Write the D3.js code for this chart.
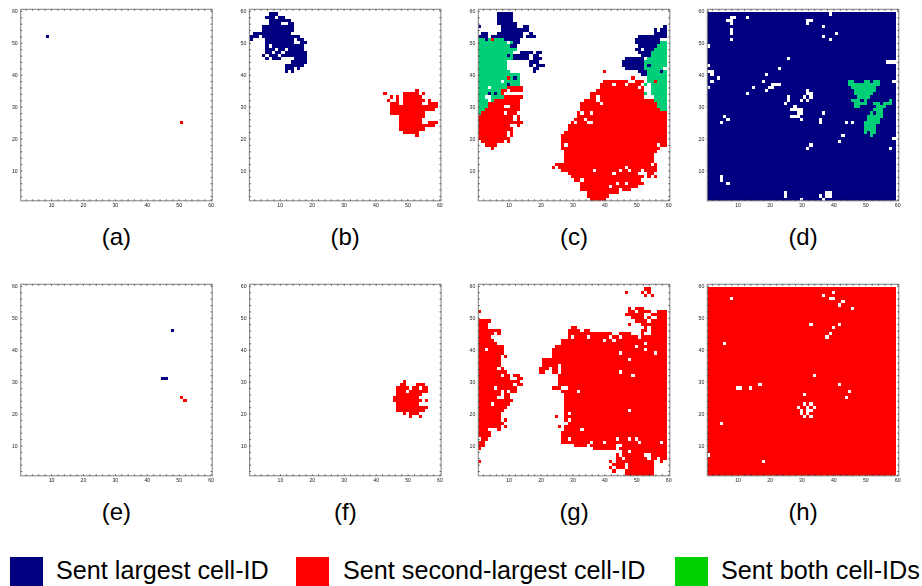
<!DOCTYPE html>
<html><head><meta charset="utf-8">
<script src="https://cdnjs.cloudflare.com/ajax/libs/d3/7.8.5/d3.min.js"></script>
<style>html,body{margin:0;padding:0;background:#fff}svg{display:block}text{font-family:"Liberation Sans",Arial,sans-serif;fill:#000}</style>
</head><body><div id="c"></div>
<script>
// Rows: [y, xStart, xEnd, xStart, xEnd, ...]; holes: [x, y]
const panelLabels = ["(a)","(b)","(c)","(d)","(e)","(f)","(g)","(h)"];
const tickLabels = [10,20,30,40,50,60];
const legendLabels = ["Sent largest cell-ID","Sent second-largest cell-ID","Sent both cell-IDs"];

const aBlue=[[52,9,9]], aRed=[[25,51,51]], aGreen=[], aHoles=[];

const bBlue=[[59,7,9],[58,6,11],[57,7,13],[56,7,14],[55,5,14],[54,5,14],[53,2,13],[52,1,3,5,16],[51,1,1,6,14,16,17],[50,6,14,17,18],[49,6,17],[48,6,17],[47,6,18],[46,5,5,7,9,11,18],[45,6,6,8,10,15,18],[44,14,18],[43,12,17],[42,12,14,16,16],[41,12,12,14,14]];
const bRed=[[35,53,53],[34,43,43,49,51,52,53,55,55],[33,45,45,47,47,49,54],[32,44,44,47,47,49,55,57,57],[31,45,47,49,54,57,57,58,59],[30,45,56,57,59],[29,45,56,57,58],[28,45,55],[27,48,55],[26,48,54],[25,48,54,57,59],[24,48,55,56,58],[23,48,55],[22,49,53],[21,53,53]];
const bGreen=[];
const bHoles=[[9,58],[11,56],[12,56],[7,49],[9,48],[12,48],[8,47],[11,47],[10,46],[15,50],[16,50],[15,51],[4,52]];

const cBlue=[[59,7,11],[58,7,11],[57,7,11],[56,7,12],[55,1,1,8,12,15,16],[54,8,16],[53,2,3,7,14,17,17],[52,1,3,5,14,16,18],[51,3,3,9,13],[50,10,10,12,13],[49,11,12],[47,14,17,19,20],[46,10,10,12,16,18,19],[45,12,16,18,20],[44,17,19],[43,17,17,19,21],[42,18,19],[41,18,18],[39,12,12],[37,10,10],[34,4,4,6,6],
[55,59,59],[54,56,56,58,59],[53,56,59],[52,51,59],[51,50,58],[50,50,57],[49,51,56],[48,50,51,53,55],[47,51,54],[46,52,54],[45,47,52],[44,46,52],[43,46,52,54,54],[42,47,52],[41,51,53,58,58],[40,52,53]];
const cRed=[[51,5,5],[39,10,10],[36,10,14],[35,8,14],[34,8,8],[33,9,14],[32,6,13],[31,4,13],[30,4,9,11,13],[29,3,13],[28,2,9,10,12],[27,1,11,13,13],[26,1,11,13,13],[25,1,12,13,14],[24,1,10,12,13],[23,1,11],[22,1,11],[21,1,9,11,11],[20,1,10],[19,2,8,10,10],[18,3,6],[17,5,5],
[41,40,40],[39,49,49],[38,40,47,50,53,56,56],[37,39,51],[36,39,52],[35,38,52],[34,36,52],[33,35,52],[32,34,55],[31,33,56],[30,33,56],[29,33,57],[28,32,32,34,59],[27,32,59],[26,31,33,35,59],[25,30,59],[24,29,59],[23,29,59],[22,28,59],[21,27,59],[20,27,59],[19,27,59],[18,27,59],[17,27,57],[16,28,56],[15,28,55],[14,28,55],[13,28,55],[12,25,54,56,56],[11,24,24,26,54,55,56],[10,27,51,53,56],[9,29,50,54,55],[8,30,52,54,54,56,56],[7,31,32,34,51],[6,33,52],[5,33,41,43,50],[4,33,44,46,48],[3,35,44],[2,35,41],[1,36,40]];
const cGreen=[[51,1,8],[50,1,9,11,11],[49,1,10],[48,1,13],[47,1,11],[46,1,9,11,11],[45,1,11],[44,1,9],[43,1,9],[42,1,9],[41,1,10],[40,1,13],[39,1,13],[38,1,13],[37,1,13],[36,1,9],[35,1,7],[34,1,7],[33,1,8],[32,1,5],[31,1,3],[30,1,3],[29,1,2],[28,1,1],
[50,58,59],[49,57,59],[48,56,59],[47,55,59],[46,55,59],[45,53,59],[44,53,59],[43,53,59],[42,53,59],[41,54,59],[40,54,59],[39,54,59],[38,53,59],[37,53,59],[36,55,59],[35,55,59],[34,51,53,55,59],[33,51,52,56,59],[32,56,59],[31,57,59],[30,57,59],[29,58,59]];
const cHoles=[[4,36],[3,33],[4,33],[4,32],[8,38],[13,48],[9,34],[10,34],[11,34],[12,34],[13,34],[14,34],[9,30],[10,30],[9,28],[12,24],[10,22],[10,35],[10,50],[59,42],[53,45],[52,48],[58,51],[53,38],[54,37],[43,37],[47,37],[51,36],[35,33],[38,33],[38,32],[39,31],[36,28],[31,25],[35,25],[36,25],[28,18],[57,18],[37,10],[47,11],[48,10],[45,10],[43,9],[52,7],[53,6],[55,8],[44,6],[47,6]];

const dBlue=[];for(const r of [59,58,57,56,55,54,53,52,51,50,49,48,47,46,45,44,43,42,41,40,39,38,37,36,35,34,33,32,31,30,29,28,27,26,25,24,23,22,21,20,19,18,17,16,15,14,13,12,11,10,9,8,7,6,5,4,3,2,1])dBlue.push([r,1,59]);
const dRed=[];
const dGreen=[[38,45,46,50,51,53,54],[37,45,54],[36,46,53],[35,47,53],[34,47,52],[33,48,51],[32,46,50,58,58],[31,47,50,53,54,56,58],[30,47,48,54,56],[29,53,55],[28,52,55],[27,51,55],[26,51,54],[25,50,54],[24,50,53],[23,50,53],[22,50,50,52,53],[21,52,52]];
const dHoles=[[39,59],[8,58],[9,58],[13,58],[7,57],[8,57],[8,56],[8,54],[8,53],[8,51],[32,57],[33,57],[32,56],[37,55],[37,52],[41,53],[39,51],[1,49],[26,45],[1,43],[23,42],[1,41],[2,41],[2,40],[19,40],[4,39],[2,38],[18,38],[21,37],[22,37],[20,36],[21,36],[23,37],[1,36],[15,36],[19,35],[13,34],[32,35],[32,34],[33,34],[31,33],[33,33],[26,33],[26,32],[30,32],[32,32],[25,31],[28,30],[27,29],[28,29],[29,29],[30,29],[29,28],[30,28],[27,27],[28,27],[29,27],[30,26],[36,26],[36,25],[37,28],[44,25],[46,25],[6,27],[7,26],[5,25],[43,21],[42,19],[33,18],[32,17],[58,17],[59,20],[57,44],[58,44],[59,44],[59,38],[5,8],[5,7],[7,6],[25,3],[25,2],[36,2],[38,2],[39,2],[38,3],[39,3],[37,1],[30,1]];
const dDots=[[49,32],[53,28]];

const eBlue=[[46,48,48],[31,45,46]], eRed=[[25,51,51],[24,52,52]], eGreen=[], eHoles=[];

const fBlue=[];
const fRed=[[30,49,49],[29,48,49,53,55],[28,47,50,52,56],[27,47,49,51,56],[26,47,54],[25,46,53],[24,46,54,56,56],[23,47,53],[22,47,54,55,56],[21,47,54,55,55],[20,49,49,51,53],[19,51,51,54,54]];
const fGreen=[];
const fHoles=[[54,28]];

const gBlue=[];
const gRed=[[52,1,1],[49,1,4],[48,1,3],[47,1,3],[46,1,7],[45,1,5,7,7],[44,1,4],[43,1,5],[42,1,6],[41,1,8],[40,1,8],[39,1,8],[38,1,7,9,9],[37,1,7],[36,1,7],[35,1,7],[34,1,6,8,8],[33,1,9],[32,1,7,9,10,12,13],[31,1,10,13,14],[30,1,11,12,13],[29,1,11,13,14],[28,1,5,7,12],[27,1,7,9,9,11,12],[26,1,7,9,10],[25,1,6,9,10],[24,1,11],[23,1,4,6,10],[22,1,9],[21,1,8],[20,1,7],[19,1,7],[18,1,7,9,9],[17,1,8],[16,1,7,9,9],[15,1,3,7,7],[14,1,4],[13,1,4],[12,2,3],[11,1,2],[10,1,2],[9,1,1],[5,1,1],
[59,53,54],[58,47,47,52,52,54,54],[57,53,53,55,55],[53,48,48,50,52],[52,48,53,54,54,57,59],[51,47,52,55,55,56,59],[50,49,52,54,54,56,59],[49,50,53,55,59],[48,48,48,52,54,55,59],[47,30,31,53,53,55,59],[46,29,32,34,35,52,53,55,59],[45,29,42,45,48,52,59],[44,29,41,43,50,52,59],[43,27,42,44,59],[42,27,59],[41,25,59],[40,24,59],[39,24,59],[38,24,59],[37,21,59],[36,21,26,27,59],[35,21,25,27,59],[34,20,22,24,25,27,59],[33,20,21,24,25,27,59],[32,26,59],[31,26,59],[30,26,59],[29,26,59],[28,24,26,28,59],[27,27,59],[26,28,59],[25,28,59],[24,28,59],[23,28,59],[22,28,59],[21,28,59],[20,28,59],[19,25,25,28,59],[18,28,59],[17,29,59],[16,26,26,28,59],[15,28,59],[14,27,59],[13,27,59],[12,27,59],[11,27,59],[10,31,34,36,43,46,59],[9,37,43,45,59],[8,45,59],[7,44,53,55,59],[6,44,53,55,56,58,59],[5,42,42,44,47,48,55,58,58],[4,43,46,48,55],[3,42,42,44,46,48,55],[2,43,43,47,55],[1,47,55]];
const gGreen=[];
const gHoles=[[6,45],[3,40],[7,34],[8,32],[6,28],[5,23],[8,18],[8,16],[1,12],[50,52],[56,50],[52,47],[53,45],[54,45],[30,44],[35,44],[40,43],[43,43],[45,44],[50,41],[53,42],[45,39],[53,40],[56,39],[48,37],[45,33],[49,32],[26,33],[28,28],[32,27],[48,21],[29,20],[29,18],[33,15],[29,12],[44,12],[48,12],[50,12],[51,11],[36,11],[40,11],[58,11],[45,8],[48,8],[53,7],[45,7],[46,6]];

const hBlue=[];
const hRed=[];for(const r of [59,58,57,56,55,54,53,52,51,50,49,48,47,46,45,44,43,42,41,40,39,38,37,36,35,34,33,32,31,30,29,28,27,26,25,24,23,22,21,20,19,18,17,16,15,14,13,12,11,10,9,8,7,6,5,4,3,2,1])hRed.push([r,1,59]);
const hGreen=[];
const hHoles=[[40,58],[37,57],[39,56],[40,56],[8,56],[43,55],[42,54],[46,53],[33,48],[42,48],[40,47],[39,45],[38,44],[6,42],[34,32],[17,29],[42,29],[10,28],[11,28],[14,28],[45,27],[31,26],[44,25],[31,23],[33,23],[29,22],[32,22],[34,22],[30,21],[30,20],[32,21],[32,20],[33,21],[31,19],[33,19],[5,17],[1,7],[18,5]];

const panels=[
 {b:aBlue,r:aRed,g:aGreen,h:aHoles,x:20.7,y:9.3},{b:bBlue,r:bRed,g:bGreen,h:bHoles,x:249.4,y:9.3},
 {b:cBlue,r:cRed,g:cGreen,h:cHoles,x:478.3,y:9.3},{b:dBlue,r:dRed,g:dGreen,h:dHoles,x:707.3,y:9.3,d:dDots,greenTop:true},
 {b:eBlue,r:eRed,g:eGreen,h:eHoles,x:20.7,y:284.3},{b:fBlue,r:fRed,g:fGreen,h:fHoles,x:249.6,y:284.3},
 {b:gBlue,r:gRed,g:gGreen,h:gHoles,x:478.3,y:284.3},{b:hBlue,r:hRed,g:hGreen,h:hHoles,x:707.3,y:284.3}];
const size=191.5;
const navy="#000080",red="#ff0000",teal="#00cf78",legendGreen="#00d000";
const svg=d3.select("#c").append("svg").attr("width",922).attr("height",586);
const x=d3.scaleLinear().domain([0.5,60.5]).range([0,size]);
const y=d3.scaleLinear().domain([0.5,60.5]).range([size,0]);
const minor=d3.range(2,61,2);

panels.forEach((p,i)=>{
  const g=svg.append("g").attr("transform",`translate(${p.x},${p.y})`).style("filter","blur(0.35px)");
  const runs=[];
  const add=(rows,c)=>rows.forEach(row=>{for(let k=1;k<row.length;k+=2)runs.push({r:row[0],a:row[k],b:row[k+1],c});});
  if(p.greenTop){add(p.b,navy);add(p.g,teal);}else{add(p.g,teal);add(p.r,red);add(p.b,navy);}
  g.selectAll("rect.run").data(runs).join("rect").attr("class","run")
   .attr("x",d=>x(d.a-0.5)).attr("y",d=>y(d.r+0.5))
   .attr("width",d=>x(d.b+0.5)-x(d.a-0.5)).attr("height",d=>y(d.r-0.5)-y(d.r+0.5))
   .attr("fill",d=>d.c).attr("shape-rendering","crispEdges");
  g.selectAll("rect.hole").data(p.h).join("rect").attr("class","hole")
   .attr("x",d=>x(d[0]-0.5)).attr("y",d=>y(d[1]+0.5))
   .attr("width",x(1.5)-x(0.5)).attr("height",y(0.5)-y(1.5)).attr("fill","#fff").attr("shape-rendering","crispEdges");
  if(p.d)g.selectAll("rect.dot").data(p.d).join("rect").attr("class","dot")
   .attr("x",d=>x(d[0]-0.5)).attr("y",d=>y(d[1]+0.5))
   .attr("width",x(1.5)-x(0.5)).attr("height",y(0.5)-y(1.5)).attr("fill",navy).attr("shape-rendering","crispEdges");
  g.append("rect").attr("width",size).attr("height",size).attr("fill","none").attr("stroke","#8a8a8a").attr("stroke-width",1.1);
  const ax=g.append("g").attr("transform",`translate(0,${size})`).call(d3.axisBottom(x).tickValues(tickLabels).tickSize(0).tickPadding(3));
  const ay=g.append("g").call(d3.axisLeft(y).tickValues(tickLabels).tickSize(0).tickPadding(3));
  [ax,ay].forEach(a=>{a.select(".domain").remove();a.selectAll("text").attr("font-size",5.2).style("fill","#222");});
  ["axisBottom","axisTop"].forEach((o,j)=>{
    const t=g.append("g").attr("transform",`translate(0,${j?0:size})`).call(d3[o](x).tickValues(minor).tickSize(-1.5).tickFormat(""));
    t.select(".domain").remove();t.selectAll("line").attr("stroke","#222").attr("stroke-width",.7);
  });
  ["axisLeft","axisRight"].forEach((o,j)=>{
    const t=g.append("g").attr("transform",`translate(${j?size:0},0)`).call(d3[o](y).tickValues(minor).tickSize(-1.5).tickFormat(""));
    t.select(".domain").remove();t.selectAll("line").attr("stroke","#222").attr("stroke-width",.7);
  });
  svg.append("text").attr("x",p.x+size/2).attr("y",p.y+236).attr("text-anchor","middle").attr("font-size",24).text(panelLabels[i]);
});

const legendBox=[10,296,675], legendText=[56,343,721], legendCol=[navy,red,legendGreen];
legendLabels.forEach((t,i)=>{
  svg.append("rect").attr("x",legendBox[i]).attr("y",557).attr("width",33).attr("height",29).attr("fill",legendCol[i]);
  svg.append("text").attr("x",legendText[i]).attr("y",578.5).attr("font-size",25.2).text(t);
});
</script></body></html>
